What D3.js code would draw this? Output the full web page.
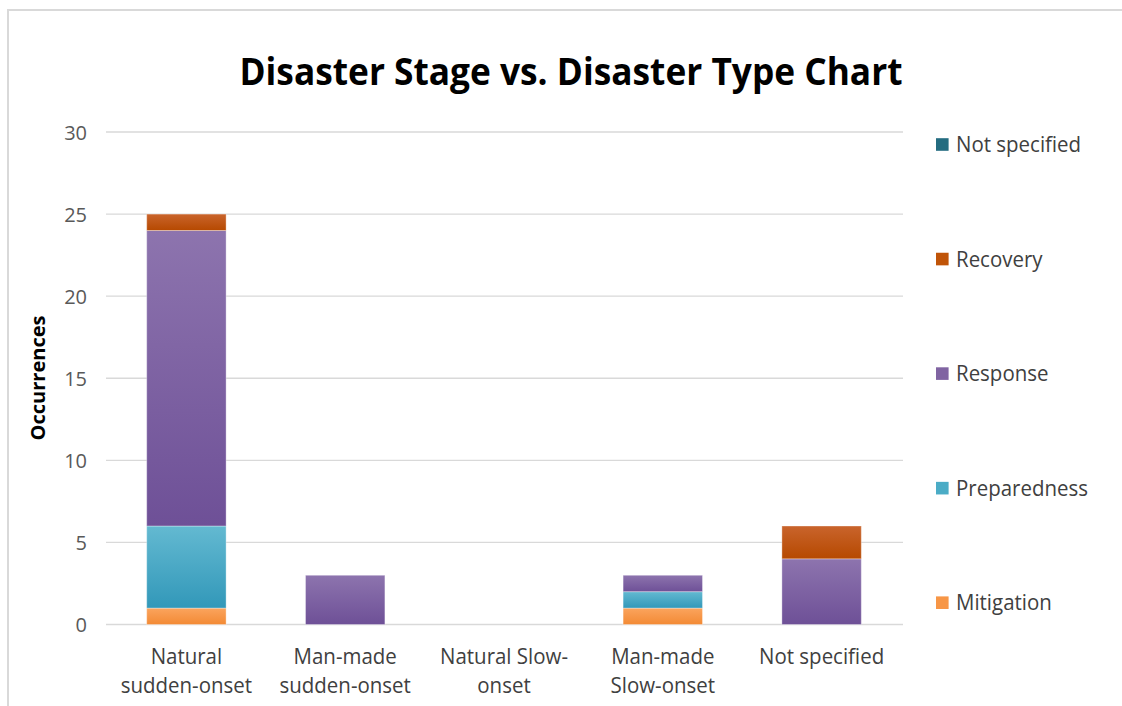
<!DOCTYPE html>
<html>
<head>
<meta charset="utf-8">
<script src="https://cdn.jsdelivr.net/npm/d3@7"></script>
<style>
  html, body { margin: 0; padding: 0; background: #fff; }
  svg { display: block; font-family: "Open Sans", "Noto Sans", sans-serif; }
</style>
</head>
<body>
<svg id="chart" width="1122" height="706"></svg>
<script>
// Disaster types along the x axis
const categories = ["Natural sudden-onset", "Man-made sudden-onset", "Natural Slow-onset", "Man-made Slow-onset", "Not specified"];
const categoryLines = [["Natural", "sudden-onset"], ["Man-made", "sudden-onset"], ["Natural Slow-", "onset"], ["Man-made", "Slow-onset"], ["Not specified"]];

// Disaster stages (stacked bottom to top)
const stages = ["Mitigation", "Preparedness", "Response", "Recovery", "Not specified"];
const mitigation   = [1, 0, 0, 1, 0];
const preparedness = [5, 0, 0, 1, 0];
const response     = [18, 3, 0, 1, 4];
const recovery     = [1, 0, 0, 0, 2];
const notSpecified = [0, 0, 0, 0, 0];

const yTicks = [0, 5, 10, 15, 20, 25, 30];

const stageValues = [mitigation, preparedness, response, recovery, notSpecified];
const rows = categories.map((c, i) => {
  const r = { category: c };
  stages.forEach((s, j) => { r[s] = stageValues[j][i]; });
  return r;
});

// Gradient stops per stage: lighter top, deeper bottom
const stageColors = {
  "Mitigation":    { top: "#fba45e", bottom: "#f38a34", solid: "#f79646" },
  "Preparedness":  { top: "#63b9d1", bottom: "#3298b9", solid: "#4bacc6" },
  "Response":      { top: "#8d74ae", bottom: "#6e5097", solid: "#8064a2" },
  "Recovery":      { top: "#c9642c", bottom: "#b64900", solid: "#c05408" },
  "Not specified": { top: "#2d7b8e", bottom: "#1b5e70", solid: "#246c80" }
};

const svg = d3.select("#chart");
const defs = svg.append("defs");
stages.forEach((s, i) => {
  const g = defs.append("linearGradient")
    .attr("id", "grad" + i)
    .attr("x1", 0).attr("y1", 0).attr("x2", 0).attr("y2", 1);
  g.append("stop").attr("offset", "0%").attr("stop-color", stageColors[s].top);
  g.append("stop").attr("offset", "100%").attr("stop-color", stageColors[s].bottom);
});

// Shrink text horizontally to a narrower set width
function condense(sel, k) {
  sel.each(function () {
    const len = this.getComputedTextLength();
    d3.select(this).attr("textLength", len * k).attr("lengthAdjust", "spacingAndGlyphs");
  });
}

// Chart frame
svg.append("rect")
  .attr("x", 8).attr("y", 10)
  .attr("width", 1140).attr("height", 720)
  .attr("fill", "none")
  .attr("stroke", "#d9d9d9")
  .attr("stroke-width", 2);

const x = d3.scaleBand()
  .domain(categories)
  .range([107, 901])
  .paddingInner(0.5)
  .paddingOuter(0.25);

const y = d3.scaleLinear()
  .domain([0, 30])
  .range([624.5, 132]);

const gridLeft = 106, gridRight = 903;

// Gridlines
svg.append("g")
  .selectAll("line")
  .data(yTicks)
  .join("line")
  .attr("x1", gridLeft).attr("x2", gridRight)
  .attr("y1", d => y(d)).attr("y2", d => y(d))
  .attr("stroke", "#d9d9d9")
  .attr("stroke-width", 1.3);

// Y axis tick labels
const yAxis = d3.axisLeft(y).tickValues(yTicks).tickSize(0).tickPadding(0);
const yg = svg.append("g")
  .attr("transform", "translate(87,0)")
  .call(yAxis);
yg.select(".domain").remove();
yg.selectAll("text")
  .attr("font-family", "\"Open Sans\", sans-serif")
  .attr("font-size", 20)
  .attr("fill", "#595959")
  .attr("dy", "0.36em");

// Stacked bars
const stack = d3.stack().keys(stages);
const series = stack(rows);

svg.append("g")
  .selectAll("g")
  .data(series)
  .join("g")
  .attr("fill", (d, i) => "url(#grad" + i + ")")
  .selectAll("rect")
  .data(d => d.filter(p => p[1] - p[0] > 0))
  .join("rect")
  .attr("x", d => x(d.data.category))
  .attr("width", x.bandwidth())
  .attr("y", d => y(d[1]))
  .attr("height", d => y(d[0]) - y(d[1]))
  .attr("stroke", "rgba(255,255,255,0.35)")
  .attr("stroke-width", 1);

// X axis category labels, one text per line
const labelLines = [];
categories.forEach((c, i) => {
  categoryLines[i].forEach((line, j) => labelLines.push({ category: c, line, row: j }));
});
svg.append("g")
  .selectAll("text")
  .data(labelLines)
  .join("text")
  .attr("x", d => x(d.category) + x.bandwidth() / 2)
  .attr("y", d => 664 + d.row * 29)
  .attr("text-anchor", "middle")
  .attr("font-size", 22)
  .attr("fill", "#404040")
  .text(d => d.line)
  .call(condense, 0.93);

// Y axis title
svg.append("text")
  .attr("transform", "translate(45,378) rotate(-90)")
  .attr("text-anchor", "middle")
  .attr("font-size", 20)
  .attr("font-weight", "bold")
  .attr("fill", "#000")
  .attr("textLength", 125)
  .attr("lengthAdjust", "spacingAndGlyphs")
  .text("Occurrences");

// Title
svg.append("text")
  .attr("x", 571)
  .attr("y", 85)
  .attr("text-anchor", "middle")
  .attr("font-size", 37)
  .attr("font-weight", "bold")
  .attr("fill", "#000")
  .attr("textLength", 663)
  .attr("lengthAdjust", "spacingAndGlyphs")
  .text("Disaster Stage vs. Disaster Type Chart");

// Legend, top to bottom in reverse stack order
const legendY = d3.scalePoint()
  .domain(stages.slice().reverse())
  .range([144.5, 602.7]);

const lg = svg.append("g")
  .selectAll("g")
  .data(stages.slice().reverse())
  .join("g")
  .attr("transform", d => `translate(936,${legendY(d)})`);
lg.append("rect")
  .attr("x", 0).attr("y", -6.3)
  .attr("width", 12.6).attr("height", 12.6)
  .attr("fill", d => stageColors[d].solid);
lg.append("text")
  .attr("x", 20)
  .attr("y", 7.5)
  .attr("font-size", 22)
  .attr("fill", "#404040")
  .text(d => d)
  .call(condense, 0.93);
</script>
</body>
</html>
